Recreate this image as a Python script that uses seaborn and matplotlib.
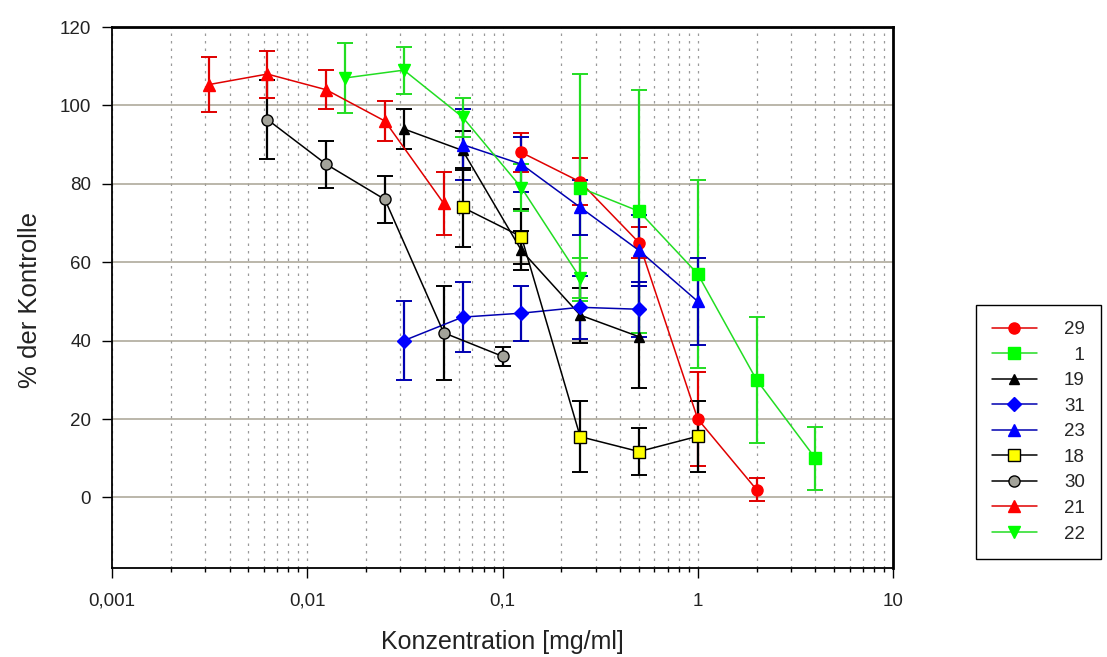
import matplotlib
matplotlib.use("Agg")
import matplotlib.pyplot as plt
import matplotlib.ticker as mticker
import seaborn as sns
import numpy as np
import pandas as pd

# ---- data ----
conc_29 = [0.125, 0.25, 0.5, 1, 2]
val_29 = [88, 80.5, 65, 20, 2]
err_29 = [5, 6, 4, 12, 3]

conc_1 = [0.25, 0.5, 1, 2, 4]
val_1 = [79, 73, 57, 30, 10]
err_1 = [29, 31, 24, 16, 8]

conc_19 = [0.03125, 0.0625, 0.125, 0.25, 0.5]
val_19 = [94, 88.5, 63, 46.5, 41]
err_19 = [5, 5, 5, 7, 13]

conc_31 = [0.03125, 0.0625, 0.125, 0.25, 0.5]
val_31 = [40, 46, 47, 48.5, 48]
err_31 = [10, 9, 7, 8, 7]

conc_23 = [0.0625, 0.125, 0.25, 0.5, 1]
val_23 = [90, 85, 74, 63, 50]
err_23 = [9, 7, 7, 9, 11]

conc_18 = [0.0625, 0.125, 0.25, 0.5, 1]
val_18 = [74, 66.5, 15.5, 11.7, 15.6]
err_18 = [10, 7, 9, 6, 9]

conc_30 = [0.00625, 0.0125, 0.025, 0.05, 0.1]
val_30 = [96.4, 85, 76, 42, 36]
err_30 = [10, 6, 6, 12, 2.5]

conc_21 = [0.003125, 0.00625, 0.0125, 0.025, 0.05]
val_21 = [105.3, 108, 104, 96, 75]
err_21 = [7, 6, 5, 5, 8]

conc_22 = [0.015625, 0.03125, 0.0625, 0.125, 0.25]
val_22 = [107, 109, 97, 79, 56]
err_22 = [9, 6, 5, 6, 5]

series_labels = ["29", "1", "19", "31", "23", "18", "30", "21", "22"]
x_ticks = [0.001, 0.01, 0.1, 1, 10]
x_tick_labels = ["0,001", "0,01", "0,1", "1", "10"]
y_ticks = [0, 20, 40, 60, 80, 100, 120]

series_data = [
    (conc_29, val_29, err_29),
    (conc_1, val_1, err_1),
    (conc_19, val_19, err_19),
    (conc_31, val_31, err_31),
    (conc_23, val_23, err_23),
    (conc_18, val_18, err_18),
    (conc_30, val_30, err_30),
    (conc_21, val_21, err_21),
    (conc_22, val_22, err_22),
]

# ---- styles ----
styles = {
    "29": dict(line="#e00000", face="#ff0000", edge="#ff0000", marker="o", ms=8, err="#e00000"),
    "1": dict(line="#22dd22", face="#00ff00", edge="#00ff00", marker="s", ms=8, err="#22dd22"),
    "19": dict(line="#000000", face="#000000", edge="#000000", marker="^", ms=7, err="#000000"),
    "31": dict(line="#0000b0", face="#0000ff", edge="#0000ff", marker="D", ms=7, err="#0000b0"),
    "23": dict(line="#0000b0", face="#0000ff", edge="#0000ff", marker="^", ms=8, err="#0000b0"),
    "18": dict(line="#000000", face="#ffff00", edge="#000000", marker="s", ms=8, err="#000000"),
    "30": dict(line="#000000", face="#a3a39a", edge="#000000", marker="o", ms=8, err="#000000"),
    "21": dict(line="#e00000", face="#ff0000", edge="#ff0000", marker="^", ms=8.5, err="#e00000"),
    "22": dict(line="#22dd22", face="#00ff00", edge="#00ff00", marker="v", ms=8.5, err="#22dd22"),
}

sns.set_theme(style="white")
plt.rcParams["font.family"] = ["Liberation Sans", "DejaVu Sans"]

fig = plt.figure(figsize=(11.07, 6.57), dpi=100)
ax = fig.add_axes([112 / 1107, 1 - 568 / 657, (893 - 112) / 1107, (568 - 27) / 657])
ax.set_xscale("log")

for lab, (cx, vy, ey) in zip(series_labels, series_data):
    st = styles[lab]
    ax.errorbar(cx, vy, yerr=ey, fmt="none", ecolor=st["err"], elinewidth=1.6,
                capsize=5.5, capthick=1.4, zorder=2)
    df = pd.DataFrame({"x": cx, "y": vy})
    sns.lineplot(data=df, x="x", y="y", ax=ax, color=st["line"], lw=1.1,
                 marker=st["marker"], markersize=st["ms"],
                 markerfacecolor=st["face"], markeredgecolor=st["edge"],
                 markeredgewidth=1.0, label=lab if lab != "1" else "  1",
                 estimator=None, sort=False, zorder=3)

ax.set_xlim(0.001, 10)
ax.set_ylim(-18, 120)
ax.set_xticks(x_ticks)
ax.set_xticklabels(x_tick_labels)
ax.xaxis.set_minor_locator(mticker.LogLocator(base=10, subs=np.arange(2, 10)))
ax.xaxis.set_minor_formatter(mticker.NullFormatter())
ax.set_yticks(y_ticks)

ax.grid(False)
ax.grid(which="major", axis="y", color="#a8a393", lw=1.1, ls="-", zorder=0)
ax.grid(which="both", axis="x", color="#9a9a9a", lw=0.9, ls=(0, (2, 4)), zorder=0)
ax.set_axisbelow(True)

ax.tick_params(axis="both", which="major", direction="out", length=7, width=1,
               color="black", labelsize=13.5, labelcolor="#222222", bottom=True, left=True)
ax.tick_params(axis="x", which="minor", direction="out", length=3, width=1,
               color="black", bottom=True)
ax.tick_params(axis="x", which="major", pad=11)
ax.tick_params(axis="y", which="major", pad=8)

for sp in ax.spines.values():
    sp.set_color("black")
    sp.set_linewidth(1.3)
ax.spines["top"].set_linewidth(2)
ax.spines["right"].set_linewidth(2)

ax.set_xlabel("Konzentration [mg/ml]", fontsize=18, color="#222222")
ax.set_ylabel("% der Kontrolle", fontsize=18.5, color="#222222")
ax.xaxis.set_label_coords(0.5, (568 - 630) / 541)
ax.yaxis.set_label_coords((42 - 112) / 781, 0.495)

leg = ax.legend(loc="upper left", bbox_to_anchor=(976 / 1107, 1 - 305 / 657),
                bbox_transform=fig.transFigure, frameon=True, fancybox=False,
                edgecolor="black", framealpha=1, fontsize=13.5, handlelength=2.4,
                handletextpad=1.45, labelspacing=0.45, borderpad=0.85,
                borderaxespad=0)
leg.get_frame().set_linewidth(1.0)

fig.savefig("out.png", dpi=100)
